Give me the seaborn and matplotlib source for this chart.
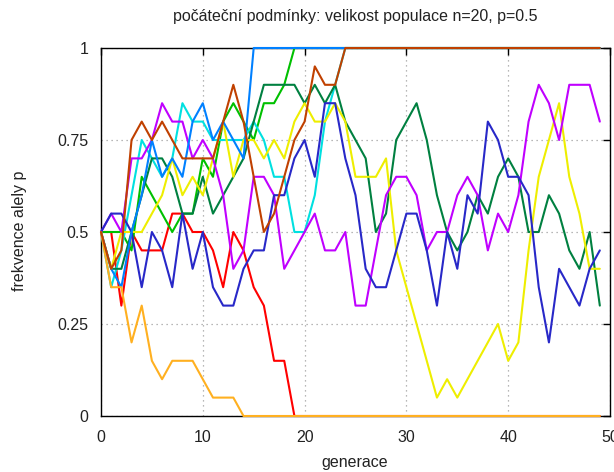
import matplotlib
matplotlib.use("Agg")
import matplotlib.pyplot as plt
import seaborn as sns
import pandas as pd

# Allele frequency trajectories (Wright-Fisher drift), generations 0..49
generations = list(range(50))

red = [0.5, 0.5, 0.3, 0.5, 0.45, 0.45, 0.45, 0.55, 0.55, 0.5,
       0.5, 0.45, 0.35, 0.5, 0.45, 0.35, 0.3, 0.15, 0.15, 0.0,
       0.0, 0.0, 0.0, 0.0, 0.0, 0.0, 0.0, 0.0, 0.0, 0.0,
       0.0, 0.0, 0.0, 0.0, 0.0, 0.0, 0.0, 0.0, 0.0, 0.0,
       0.0, 0.0, 0.0, 0.0, 0.0, 0.0, 0.0, 0.0, 0.0, 0.0]
green = [0.5, 0.5, 0.5, 0.45, 0.65, 0.6, 0.55, 0.5, 0.55, 0.55,
         0.7, 0.65, 0.8, 0.85, 0.8, 0.75, 0.85, 0.85, 0.9, 1.0,
         1.0, 1.0, 1.0, 1.0, 1.0, 1.0, 1.0, 1.0, 1.0, 1.0,
         1.0, 1.0, 1.0, 1.0, 1.0, 1.0, 1.0, 1.0, 1.0, 1.0,
         1.0, 1.0, 1.0, 1.0, 1.0, 1.0, 1.0, 1.0, 1.0, 1.0]
cyan = [0.5, 0.35, 0.45, 0.6, 0.75, 0.7, 0.65, 0.7, 0.85, 0.8,
        0.8, 0.75, 0.75, 0.75, 0.75, 0.8, 0.75, 0.65, 0.65, 0.5,
        0.5, 0.6, 0.8, 0.9, 1.0, 1.0, 1.0, 1.0, 1.0, 1.0,
        1.0, 1.0, 1.0, 1.0, 1.0, 1.0, 1.0, 1.0, 1.0, 1.0,
        1.0, 1.0, 1.0, 1.0, 1.0, 1.0, 1.0, 1.0, 1.0, 1.0]
darkgreen = [0.5, 0.4, 0.4, 0.5, 0.6, 0.7, 0.7, 0.65, 0.55, 0.55,
             0.65, 0.55, 0.6, 0.65, 0.7, 0.8, 0.9, 0.9, 0.9, 0.9,
             0.85, 0.9, 0.85, 0.9, 0.8, 0.75, 0.7, 0.5, 0.55, 0.75,
             0.8, 0.85, 0.75, 0.6, 0.5, 0.45, 0.5, 0.6, 0.55, 0.65,
             0.7, 0.65, 0.5, 0.5, 0.6, 0.55, 0.45, 0.4, 0.5, 0.3]
yellow = [0.5, 0.4, 0.5, 0.5, 0.5, 0.55, 0.6, 0.7, 0.6, 0.65,
          0.6, 0.7, 0.8, 0.65, 0.75, 0.75, 0.7, 0.75, 0.7, 0.8,
          0.85, 0.8, 0.8, 0.85, 0.8, 0.65, 0.65, 0.65, 0.7, 0.45,
          0.35, 0.25, 0.15, 0.05, 0.1, 0.05, 0.1, 0.15, 0.2, 0.25,
          0.15, 0.2, 0.45, 0.65, 0.75, 0.85, 0.65, 0.55, 0.4, 0.4]
magenta = [0.5, 0.55, 0.5, 0.7, 0.7, 0.75, 0.85, 0.8, 0.8, 0.7,
           0.75, 0.7, 0.6, 0.4, 0.45, 0.65, 0.65, 0.6, 0.4, 0.45,
           0.5, 0.55, 0.45, 0.45, 0.5, 0.3, 0.3, 0.45, 0.6, 0.65,
           0.65, 0.6, 0.45, 0.5, 0.5, 0.6, 0.65, 0.6, 0.45, 0.55,
           0.5, 0.6, 0.8, 0.9, 0.85, 0.75, 0.9, 0.9, 0.9, 0.8]
blue = [0.5, 0.55, 0.55, 0.5, 0.35, 0.5, 0.45, 0.35, 0.55, 0.4,
        0.5, 0.35, 0.3, 0.3, 0.4, 0.45, 0.45, 0.6, 0.6, 0.7,
        0.75, 0.65, 0.85, 0.85, 0.7, 0.6, 0.4, 0.35, 0.35, 0.45,
        0.55, 0.55, 0.45, 0.3, 0.5, 0.4, 0.6, 0.55, 0.8, 0.75,
        0.65, 0.65, 0.6, 0.35, 0.2, 0.4, 0.35, 0.3, 0.4, 0.45]
dodger = [0.5, 0.4, 0.35, 0.5, 0.6, 0.75, 0.65, 0.7, 0.65, 0.8,
          0.85, 0.75, 0.8, 0.75, 0.7, 1.0, 1.0, 1.0, 1.0, 1.0,
          1.0, 1.0, 1.0, 1.0, 1.0, 1.0, 1.0, 1.0, 1.0, 1.0,
          1.0, 1.0, 1.0, 1.0, 1.0, 1.0, 1.0, 1.0, 1.0, 1.0,
          1.0, 1.0, 1.0, 1.0, 1.0, 1.0, 1.0, 1.0, 1.0, 1.0]
orange = [0.5, 0.35, 0.35, 0.2, 0.3, 0.15, 0.1, 0.15, 0.15, 0.15,
          0.1, 0.05, 0.05, 0.05, 0.0, 0.0, 0.0, 0.0, 0.0, 0.0,
          0.0, 0.0, 0.0, 0.0, 0.0, 0.0, 0.0, 0.0, 0.0, 0.0,
          0.0, 0.0, 0.0, 0.0, 0.0, 0.0, 0.0, 0.0, 0.0, 0.0,
          0.0, 0.0, 0.0, 0.0, 0.0, 0.0, 0.0, 0.0, 0.0, 0.0]
brown = [0.5, 0.4, 0.45, 0.75, 0.8, 0.75, 0.8, 0.75, 0.7, 0.7,
         0.7, 0.7, 0.8, 0.9, 0.8, 0.65, 0.5, 0.55, 0.65, 0.75,
         0.8, 0.95, 0.9, 0.9, 1.0, 1.0, 1.0, 1.0, 1.0, 1.0,
         1.0, 1.0, 1.0, 1.0, 1.0, 1.0, 1.0, 1.0, 1.0, 1.0,
         1.0, 1.0, 1.0, 1.0, 1.0, 1.0, 1.0, 1.0, 1.0, 1.0]

series = {
    "red": red, "green": green, "cyan": cyan, "darkgreen": darkgreen,
    "yellow": yellow, "magenta": magenta, "blue": blue,
    "dodger": dodger, "orange": orange, "brown": brown,
}
colors = {
    "red": "#ff0000", "green": "#00c000", "cyan": "#00e0e0",
    "darkgreen": "#008040", "yellow": "#eeee00", "magenta": "#c000ff",
    "blue": "#2828c8", "dodger": "#0080ff", "orange": "#ffb020",
    "brown": "#c04000",
}

x_ticks = [0, 10, 20, 30, 40, 50]
y_ticks = [0, 0.25, 0.5, 0.75, 1]
y_tick_labels = ["0", "0.25", "0.5", "0.75", "1"]

rows = []
for name, vals in series.items():
    for g, v in zip(generations, vals):
        rows.append({"run": name, "gen": g, "p": v})
df = pd.DataFrame(rows)

sns.set_style("white")
plt.rcParams["font.family"] = ["Liberation Sans", "DejaVu Sans"]

fig = plt.figure(figsize=(6.14, 4.72), dpi=100)
ax = fig.add_axes([101 / 614, 1 - 416 / 472, 509 / 614, 368 / 472])

sns.lineplot(data=df, x="gen", y="p", hue="run", hue_order=list(series.keys()),
             palette=colors, sort=False, estimator=None, legend=False,
             linewidth=1.5, ax=ax)

# trajectories that fix at 0 or 1 are drawn on top of the frame
for ln in ax.lines:
    ln.set_clip_on(False)
    ln.set_zorder(3)

ax.set_xlim(0, 50)
ax.set_ylim(0, 1)
ax.set_xticks(x_ticks)
ax.set_yticks(y_ticks)
ax.set_yticklabels(y_tick_labels)
ax.grid(True, color="#a0a0a0", linestyle=(0, (1, 3)), linewidth=0.9)
ax.set_axisbelow(True)
for s in ax.spines.values():
    s.set_color("black")
    s.set_linewidth(1.0)
    s.set_zorder(2.5)
ax.tick_params(direction="in", length=5, width=1, color="black",
               top=True, right=True, labelsize=11.5, labelcolor="#222222")
ax.tick_params(axis="y", pad=9)
ax.tick_params(axis="x", pad=10)
ax.set_xlabel("")
ax.set_ylabel("")

fig.text(355 / 614, 1 - 17 / 472,
         "počáteční podmínky: velikost populace n=20, p=0.5",
         ha="center", va="center", fontsize=11.5, color="#222222")
fig.text(355 / 614, 1 - 463 / 472, "generace",
         ha="center", va="center", fontsize=11.5, color="#222222")
fig.text(20 / 614, 1 - 231 / 472, "frekvence alely p", rotation=90,
         ha="center", va="center", fontsize=11.5, color="#222222")

fig.savefig("out.png", dpi=100)
